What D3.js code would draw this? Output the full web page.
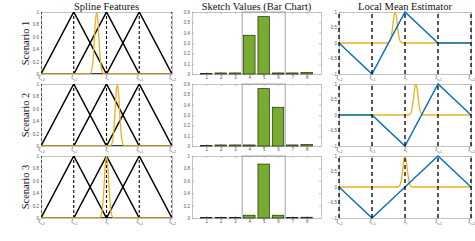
<!DOCTYPE html>
<html>
<head>
<meta charset="utf-8">
<script src="https://cdn.jsdelivr.net/npm/d3@7"></script>
<style>
  body { margin: 0; background: #fff; }
  .axis .domain, .axis line { stroke: #9a9a9a; stroke-width: 0.6; }
  .axis text { font-family: "Liberation Sans", sans-serif; font-size: 4.5px; fill: #555; }
  .title { font-family: "Liberation Serif", serif; font-size: 10.5px; fill: #111; }
</style>
</head>
<body>
<svg id="fig" width="475" height="241"></svg>
<script>
// knots of the spline grid (xi_i at 0)
const knots = [-2, -1, 0, 1, 2];
const knotSubs = ["i-2", "i-1", "i", "i+1", "i+2"];
const hatPeaks = [-1, 0, 1];
const scenarios = ["Scenario 1", "Scenario 2", "Scenario 3"];

// orange bump: centre per scenario and its shape
const bumpCenters = [-0.3, 0.33, 0.0];
const bumpOffsets = [-0.22, -0.16, -0.12, -0.08, -0.04, 0, 0.04, 0.08, 0.12, 0.16, 0.22];
const bumpShape = [0, 0.05, 0.18, 0.47, 0.83, 1, 0.83, 0.47, 0.18, 0.05, 0];

// sketch values (bar chart)
const categories = [1, 2, 3, 4, 5, 6, 7, 8];
const sketch1 = [0.006, 0.01, 0.01, 0.375, 0.555, 0.01, 0.01, 0.015];
const sketch2 = [0.006, 0.01, 0.01, 0.01, 0.555, 0.375, 0.01, 0.015];
const sketch3 = [0.006, 0.008, 0.008, 0.045, 0.87, 0.045, 0.006, 0.012];
const sketchMax = [0.6, 0.6, 1];
const sketchTicksA = [0, 0.1, 0.2, 0.3, 0.4, 0.5, 0.6];
const sketchTicksB = [0, 0.2, 0.4, 0.6, 0.8, 1];
const windowRange = [3.5, 6.5];

// local mean estimator values at the knots
const estimate1 = [0, -1, 1, 0, 0];
const estimate2 = [0, 0, -1, 1, 0];
const estimate3 = [0, -1, 0, 1, 0];

const featureTicks = [0, 0.2, 0.4, 0.6, 0.8, 1];
const estTicks = [-1, -0.5, 0, 0.5, 1];

const sketches = [sketch1, sketch2, sketch3];
const estimates = [estimate1, estimate2, estimate3];

const orange = "#EDB120", blue = "#0072BD", green = "#77AC30";

const cols = [{ x0: 41, x1: 172 }, { x0: 192, x1: 321 }, { x0: 339, x1: 471 }];
const rowTop = 12, rowStep = 72, rowH = 62;

const svg = d3.select("#fig");

// titles
const titles = ["Spline Features", "Sketch Values (Bar Chart)", "Local Mean Estimator"];
titles.forEach((t, i) => {
  svg.append("text").attr("class", "title")
    .attr("x", (cols[i].x0 + cols[i].x1) / 2).attr("y", 9.5)
    .attr("text-anchor", "middle").text(t);
});

function frame(g, x, y, xTicks, yTicks, xFmt, w, h) {
  g.append("g").attr("class", "axis").attr("transform", `translate(0,${h})`)
    .call(d3.axisBottom(x).tickValues(xTicks).tickSizeInner(-2).tickSizeOuter(0).tickPadding(2).tickFormat(xFmt));
  g.append("g").attr("class", "axis")
    .call(d3.axisTop(x).tickValues(xTicks).tickSizeInner(-2).tickSizeOuter(0).tickFormat(""));
  g.append("g").attr("class", "axis")
    .call(d3.axisLeft(y).tickValues(yTicks).tickSizeInner(-2).tickSizeOuter(0).tickPadding(2).tickFormat(d3.format("~g")));
  g.append("g").attr("class", "axis").attr("transform", `translate(${w},0)`)
    .call(d3.axisRight(y).tickValues(yTicks).tickSizeInner(-2).tickSizeOuter(0).tickFormat(""));
}

function knotLabels(g) {
  g.selectAll(".tick text").text(null).each(function (d, i) {
    const t = d3.select(this);
    t.append("tspan").style("font-size", "5px").text("ξ");
    t.append("tspan").attr("dy", "1.5").style("font-size", "3.2px").text(knotSubs[i]);
  });
}

function bumpPoints(c) {
  const pts = [[-2, 0]];
  bumpOffsets.forEach((o, k) => pts.push([c + o, bumpShape[k]]));
  pts.push([2, 0]);
  return pts;
}

scenarios.forEach((name, r) => {
  const top = rowTop + r * rowStep;

  // row label
  svg.append("text").attr("class", "title")
    .attr("transform", `translate(29,${top + rowH / 2}) rotate(-90)`)
    .attr("text-anchor", "middle").text(name);

  // ---------- spline features ----------
  {
    const w = cols[0].x1 - cols[0].x0;
    const g = svg.append("g").attr("transform", `translate(${cols[0].x0},${top})`);
    const x = d3.scaleLinear().domain([-2, 2]).range([0, w]);
    const y = d3.scaleLinear().domain([0, 1]).range([rowH, 0]);
    frame(g, x, y, knots, featureTicks, null, w, rowH);
    knotLabels(g.select("g.axis"));

    g.append("clipPath").attr("id", "clipF" + r).append("rect")
      .attr("width", w).attr("height", rowH);
    const plot = g.append("g").attr("clip-path", `url(#clipF${r})`);

    plot.selectAll(".knot").data(knots).join("line")
      .attr("x1", d => x(d)).attr("x2", d => x(d))
      .attr("y1", y(0)).attr("y2", y(1))
      .attr("stroke", "#000").attr("stroke-width", 1.1).attr("stroke-dasharray", "3,2");

    const line = d3.line().x(d => x(d[0])).y(d => y(d[1]));
    hatPeaks.forEach(p => {
      const pts = knots.map(k => [k, k === p ? 1 : 0]);
      plot.append("path").attr("d", line(pts))
        .attr("fill", "none").attr("stroke", "#000").attr("stroke-width", 1.5);
    });

    const curve = d3.line().x(d => x(d[0])).y(d => y(d[1])).curve(d3.curveMonotoneX);
    plot.append("path").attr("d", curve(bumpPoints(bumpCenters[r])))
      .attr("fill", "none").attr("stroke", orange).attr("stroke-width", 1.3);
  }

  // ---------- sketch values ----------
  {
    const w = cols[1].x1 - cols[1].x0;
    const g = svg.append("g").attr("transform", `translate(${cols[1].x0},${top})`);
    const x = d3.scaleLinear().domain([0, 9]).range([0, w]);
    const y = d3.scaleLinear().domain([0, sketchMax[r]]).range([rowH, 0]);
    frame(g, x, y, categories, r < 2 ? sketchTicksA : sketchTicksB, d3.format("d"), w, rowH);

    g.append("rect")
      .attr("x", x(windowRange[0])).attr("y", y(sketchMax[r]))
      .attr("width", x(windowRange[1]) - x(windowRange[0]))
      .attr("height", y(0) - y(sketchMax[r]))
      .attr("fill", "none").attr("stroke", "#999").attr("stroke-width", 0.9);

    const bw = x(0.8) - x(0);
    g.selectAll(".bar").data(categories).join("rect")
      .attr("x", d => x(d) - bw / 2)
      .attr("y", (d, i) => y(sketches[r][i]))
      .attr("width", bw)
      .attr("height", (d, i) => y(0) - y(sketches[r][i]))
      .attr("fill", green).attr("stroke", "#1e2a10").attr("stroke-width", 0.7);
  }

  // ---------- local mean estimator ----------
  {
    const w = cols[2].x1 - cols[2].x0;
    const g = svg.append("g").attr("transform", `translate(${cols[2].x0},${top})`);
    const x = d3.scaleLinear().domain([-2, 2]).range([0, w]);
    const y = d3.scaleLinear().domain([-1, 1]).range([rowH, 0]);
    frame(g, x, y, knots, estTicks, null, w, rowH);
    knotLabels(g.select("g.axis"));

    g.append("clipPath").attr("id", "clipE" + r).append("rect")
      .attr("width", w).attr("height", rowH);
    const plot = g.append("g").attr("clip-path", `url(#clipE${r})`);

    const curve = d3.line().x(d => x(d[0])).y(d => y(d[1])).curve(d3.curveMonotoneX);
    plot.append("path").attr("d", curve(bumpPoints(bumpCenters[r])))
      .attr("fill", "none").attr("stroke", orange).attr("stroke-width", 1.3);

    const line = d3.line().x((d, i) => x(knots[i])).y(d => y(d));
    g.append("path").attr("d", line(estimates[r]))
      .attr("fill", "none").attr("stroke", blue).attr("stroke-width", 1.4);

    g.selectAll(".knot").data(knots).join("line")
      .attr("x1", d => x(d)).attr("x2", d => x(d))
      .attr("y1", y(-1)).attr("y2", y(1))
      .attr("stroke", "#000").attr("stroke-width", 1.3).attr("stroke-dasharray", "4,3");
  }
});
</script>
</body>
</html>
